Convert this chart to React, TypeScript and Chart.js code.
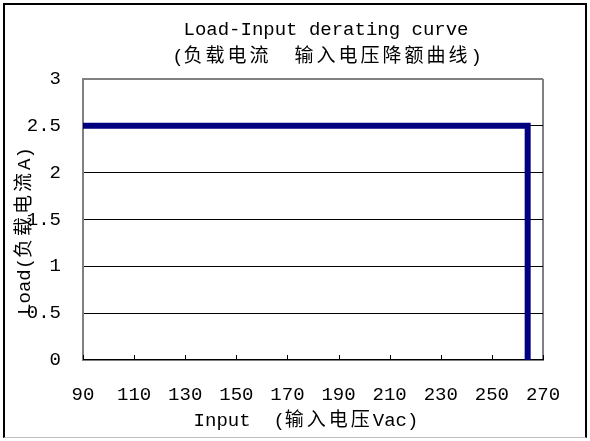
import React, { useEffect, useRef } from "react";
import { Chart, registerables } from "chart.js";

Chart.register(...registerables);

const inputVoltage: number[] = [90, 264, 264];
const loadCurrent: number[] = [2.5, 2.5, 0];
const xMin = 90;
const xMax = 270;
const xStep = 20;
const yMin = 0;
const yMax = 3;
const yStep = 0.5;

const titleLine1 = "Load-Input derating curve";
const titleLine2 = "(负载电流  输入电压降额曲线)";
const xTitle = "Input  (输入电压Vac)";
const yTitle = "Load(负载电流A)";

const FONT_FAMILY = '"Liberation Mono", "Noto Sans CJK SC", monospace';
const FONT = `19px ${FONT_FAMILY}`;
const CJK_RE = /[\u3000-\u9fff\uff00-\uffef]+|[^\u3000-\u9fff\uff00-\uffef]+/g;
const IS_CJK = /[\u3000-\u9fff\uff00-\uffef]/;

function drawMixed(ctx: CanvasRenderingContext2D, text: string, cx: number, cy: number) {
  ctx.font = FONT;
  ctx.textBaseline = "middle";
  ctx.textAlign = "left";
  ctx.fillStyle = "#000";
  const runs = text.match(CJK_RE) || [];
  const widths = runs.map((r) => {
    (ctx as any).letterSpacing = IS_CJK.test(r) ? "3px" : "0px";
    return ctx.measureText(r).width;
  });
  const total = widths.reduce((a, b) => a + b, 0);
  let x = cx - total / 2;
  runs.forEach((r, i) => {
    (ctx as any).letterSpacing = IS_CJK.test(r) ? "3px" : "0px";
    ctx.fillText(r, x, cy);
    x += widths[i];
  });
  (ctx as any).letterSpacing = "0px";
}

const textPlugin = {
  id: "textPlugin",
  afterDraw(chart: any) {
    const ctx: CanvasRenderingContext2D = chart.ctx;
    const xs = chart.scales.x;
    const area = chart.chartArea;
    ctx.save();
    // inward tick marks on x axis
    ctx.strokeStyle = "#000";
    ctx.lineWidth = 1;
    xs.ticks.forEach((t: any) => {
      const px = Math.round(xs.getPixelForValue(t.value)) + 0.5;
      ctx.beginPath();
      ctx.moveTo(px, area.bottom);
      ctx.lineTo(px, area.bottom - 5);
      ctx.stroke();
    });
    drawMixed(ctx, titleLine1, 326, 30);
    drawMixed(ctx, titleLine2, 327, 57);
    drawMixed(ctx, xTitle, 306, 421);
    ctx.translate(25, 231);
    ctx.rotate(-Math.PI / 2);
    drawMixed(ctx, yTitle, 0, 0);
    ctx.restore();
  },
};

export default function App() {
  const ref = useRef<HTMLCanvasElement | null>(null);
  useEffect(() => {
    if (!ref.current) return;
    const chart = new Chart(ref.current, {
      type: "line",
      data: {
        datasets: [
          {
            data: inputVoltage.map((x, i) => ({ x, y: loadCurrent[i] })),
            borderColor: "#000080",
            backgroundColor: "#000080",
            borderWidth: 6,
            pointRadius: 0,
            tension: 0,
            borderJoinStyle: "miter",
            borderCapStyle: "butt",
          } as any,
        ],
      },
      options: {
        animation: false,
        responsive: false,
        devicePixelRatio: 1,
        layout: { padding: { top: 79, right: 47, bottom: 0, left: 0 } },
        plugins: { legend: { display: false }, tooltip: { enabled: false }, title: { display: false } },
        scales: {
          x: {
            type: "linear",
            min: xMin,
            max: xMax,
            ticks: {
              stepSize: xStep,
              padding: 24,
              color: "#000",
              font: { family: FONT_FAMILY, size: 19 },
              maxRotation: 0,
              callback: (v: any) => String(Number(v)),
            },
            grid: {
              drawTicks: false,
              color: (c: any) => (c.tick && c.tick.value === xMax ? "#808080" : "rgba(0,0,0,0)"),
              lineWidth: 2,
            },
            border: { display: true, color: "#000", width: 1.5 },
            afterFit: (s: any) => {
              s.height = 81;
            },
          },
          y: {
            min: yMin,
            max: yMax,
            ticks: {
              stepSize: yStep,
              padding: 22,
              color: "#000",
              font: { family: FONT_FAMILY, size: 19 },
              callback: (v: any) => String(Number(v)),
            },
            grid: {
              drawTicks: false,
              color: (c: any) => {
                const v = c.tick ? c.tick.value : 0;
                if (v === yMin) return "rgba(0,0,0,0)";
                if (v === yMax) return "#808080";
                return "#000";
              },
              lineWidth: (c: any) => (c.tick && c.tick.value === yMax ? 2 : 1),
            },
            border: { display: true, color: "#808080", width: 2 },
            afterFit: (s: any) => {
              s.width = 83;
            },
          },
        },
      } as any,
      plugins: [textPlugin],
    });
    return () => chart.destroy();
  }, []);
  return (
    <div style={{ position: "absolute", left: 0, top: 0, width: 590, height: 441, background: "#fff" }}>
      <canvas ref={ref} width={590} height={441} style={{ position: "absolute", left: 0, top: 0, width: 590, height: 441 }} />
      <div
        style={{
          position: "absolute",
          left: 3,
          top: 3,
          width: 584,
          height: 435,
          boxSizing: "border-box",
          borderLeft: "2px solid #000",
          borderTop: "2px solid #000",
          borderRight: "2px solid #000",
          borderBottom: "1px solid #c0c0c0",
          pointerEvents: "none",
        }}
      />
    </div>
  );
}
